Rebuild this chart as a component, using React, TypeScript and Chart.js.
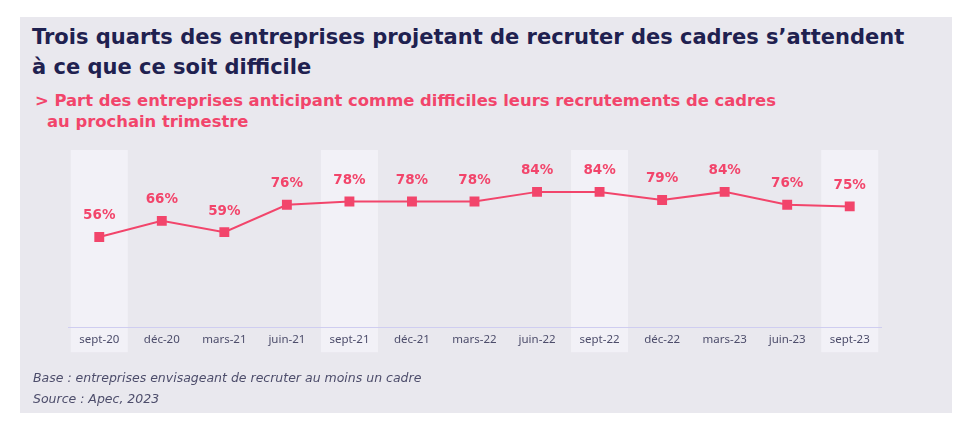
import React, { useEffect, useRef } from "react";
import { Chart, registerables } from "chart.js";

Chart.register(...registerables);

const categories = [
  "sept-20", "déc-20", "mars-21", "juin-21", "sept-21", "déc-21", "mars-22",
  "juin-22", "sept-22", "déc-22", "mars-23", "juin-23", "sept-23",
];
const values = [56, 66, 59, 76, 78, 78, 78, 84, 84, 79, 84, 76, 75];
const highlighted = ["sept-20", "sept-21", "sept-22", "sept-23"];

const titleLines = [
  "Trois quarts des entreprises projetant de recruter des cadres s’attendent",
  "à ce que ce soit difficile",
];
const subtitleLines = [
  "> Part des entreprises anticipant comme difficiles leurs recrutements de cadres",
  "au prochain trimestre",
];
const footnotes = [
  "Base : entreprises envisageant de recruter au moins un cadre",
  "Source : Apec, 2023",
];

const PINK = "#f2456b";
const NAVY = "#1f2150";
const FONT = "'Noto Sans', 'DejaVu Sans', sans-serif";
const WIDE = "'DejaVu Sans', 'Noto Sans', sans-serif";

const highlightPlugin = {
  id: "highlightCols",
  beforeDraw(chart: any) {
    const { ctx, chartArea, scales } = chart;
    const x = scales.x;
    const half = 28.5;
    ctx.save();
    ctx.fillStyle = "#f2f1f7";
    categories.forEach((c, i) => {
      if (!highlighted.includes(c)) return;
      const px = x.getPixelForValue(i);
      ctx.fillRect(px - half, chartArea.top, half * 2, chartArea.bottom - chartArea.top + 25);
    });
    ctx.restore();
  },
};

const labelPlugin = {
  id: "valueLabels",
  afterDatasetsDraw(chart: any) {
    const { ctx } = chart;
    const meta = chart.getDatasetMeta(0);
    ctx.save();
    ctx.fillStyle = PINK;
    ctx.font = `bold 13.5px ${WIDE}`;
    ctx.textAlign = "center";
    ctx.textBaseline = "middle";
    meta.data.forEach((pt: any, i: number) => {
      ctx.fillText(`${values[i]}%`, pt.x, pt.y - 21);
    });
    ctx.restore();
  },
};

export default function App() {
  const ref = useRef<HTMLCanvasElement>(null);
  useEffect(() => {
    if (!ref.current) return;
    const chart = new Chart(ref.current, {
      type: "line",
      data: {
        labels: categories,
        datasets: [
          {
            data: values,
            borderColor: PINK,
            backgroundColor: PINK,
            borderWidth: 2,
            pointStyle: "rect",
            pointRadius: 7,
            pointHoverRadius: 7,
            pointBorderWidth: 0,
            tension: 0,
          },
        ],
      },
      options: {
        animation: false,
        responsive: true,
        maintainAspectRatio: false,
        layout: { padding: { left: 68, right: 77, top: 150, bottom: 79 } },
        plugins: { legend: { display: false }, tooltip: { enabled: false } },
        scales: {
          x: {
            offset: true,
            grid: { display: false, drawTicks: false },
            border: { display: true, color: "#cfcdf0", width: 1 },
            ticks: { color: "#4d4d6b", font: { family: FONT, size: 11.5 }, padding: 6, maxRotation: 0, autoSkip: false },
          },
          y: { display: false, min: 0, max: 110 },
        },
      },
      plugins: [highlightPlugin, labelPlugin],
    });
    return () => chart.destroy();
  }, []);

  return (
    <div style={{ position: "fixed", left: 0, top: 0, width: 958, height: 432, background: "#ffffff", overflow: "hidden" }}>
      <div style={{ position: "absolute", left: 20, top: 17, width: 932, height: 396, background: "#e9e8ee" }} />
      <div style={{ position: "absolute", left: 32, top: 22, fontFamily: WIDE, fontWeight: 700, fontSize: 21, lineHeight: "30px", color: NAVY, whiteSpace: "nowrap" }}>
        <div>{titleLines[0]}</div>
        <div>{titleLines[1]}</div>
      </div>
      <div style={{ position: "absolute", left: 35, top: 90, fontFamily: WIDE, fontWeight: 700, fontSize: 16.4, lineHeight: "21px", color: PINK, whiteSpace: "nowrap" }}>
        <div>{subtitleLines[0]}</div>
        <div style={{ paddingLeft: 12 }}>{subtitleLines[1]}</div>
      </div>
      <div style={{ position: "absolute", left: 0, top: 0, width: 958, height: 432 }}>
        <canvas ref={ref} />
      </div>
      <div style={{ position: "absolute", left: 33, top: 367, fontFamily: WIDE, fontStyle: "italic", fontSize: 12.5, lineHeight: "21px", color: "#4d4d6b", whiteSpace: "nowrap" }}>
        <div>{footnotes[0]}</div>
        <div>{footnotes[1]}</div>
      </div>
    </div>
  );
}
